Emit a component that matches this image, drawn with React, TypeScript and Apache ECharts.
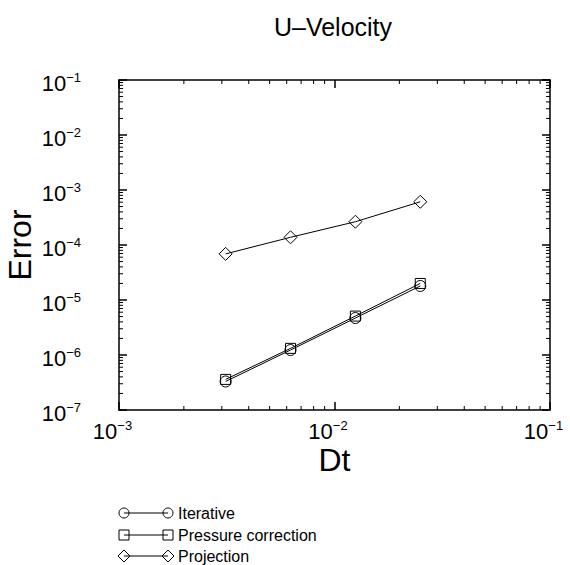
import React, { useEffect, useRef } from 'react';
import * as echarts from 'echarts';

const dt = [0.003125, 0.00625, 0.0125, 0.025];
const iterative = [3.3e-7, 1.23e-6, 4.7e-6, 1.8e-5];
const pressureCorrection = [3.6e-7, 1.32e-6, 5.1e-6, 2.0e-5];
const projection = [6.9e-5, 1.38e-4, 2.65e-4, 6.1e-4];

const xDecades = [1e-3, 1e-2];
const yDecades = [1e-7, 1e-6, 1e-5, 1e-4, 1e-3, 1e-2];
const minorMultipliers = [2, 3, 4, 5, 6, 7, 8, 9];

const X_MIN = 1e-3;
const X_MAX = 1e-1;
const Y_MIN = 1e-7;
const Y_MAX = 1e-1;

const legendItems = [
  { name: 'Iterative', symbol: 'circle' },
  { name: 'Pressure correction', symbol: 'square' },
  { name: 'Projection', symbol: 'diamond' },
];

const FONT = "'Liberation Sans', Arial, Helvetica, sans-serif";

function expLabel(v: number) {
  const e = Math.round(Math.log10(v));
  const s = e < 0 ? '\u2212' + Math.abs(e) : String(e);
  return `{b|10}{s|${s}}`;
}

const rich = {
  b: { fontSize: 22, fontFamily: FONT, color: '#000', lineHeight: 24 },
  s: { fontSize: 13, fontFamily: FONT, color: '#000', verticalAlign: 'top', lineHeight: 13 },
};

function markerShape(kind: string, cx: number, cy: number) {
  const style = { fill: 'rgba(0,0,0,0)', stroke: '#000', lineWidth: 1 };
  if (kind === 'circle') return { type: 'circle', shape: { cx, cy, r: 5 }, style };
  if (kind === 'square') return { type: 'rect', shape: { x: cx - 5, y: cy - 5, width: 10, height: 10 }, style };
  return {
    type: 'polygon',
    shape: { points: [[cx - 6, cy], [cx, cy - 6], [cx + 6, cy], [cx, cy + 6]] },
    style,
  };
}

export default function App() {
  const ref = useRef<HTMLDivElement>(null);
  useEffect(() => {
    if (!ref.current) return;
    const chart = echarts.init(ref.current, null, { renderer: 'svg' });

    const xMinor: number[][] = [];
    xDecades.forEach((d) => minorMultipliers.forEach((m) => xMinor.push([d * m, 1e-4])));
    const yMinor: number[][] = [];
    yDecades.forEach((d) => minorMultipliers.forEach((m) => yMinor.push([1e-2, d * m])));

    const legendGraphics: any[] = [];
    const rowY = [513, 535, 556];
    legendItems.forEach((it, i) => {
      const y = rowY[i];
      legendGraphics.push({
        type: 'line',
        shape: { x1: 124, y1: y, x2: 168, y2: y },
        style: { stroke: '#000', lineWidth: 1 },
      });
      legendGraphics.push(markerShape(it.symbol, 124, y));
      legendGraphics.push(markerShape(it.symbol, 168, y));
      legendGraphics.push({
        type: 'text',
        style: {
          text: it.name,
          x: 178,
          y,
          fontSize: 16,
          fontFamily: FONT,
          fill: '#000',
          verticalAlign: 'middle',
          align: 'left',
        },
      });
    });

    const axisCommon = {
      type: 'log',
      logBase: 10,
      axisLine: { show: true, onZero: false, lineStyle: { color: '#000', width: 1.5 } },
      axisTick: { show: true, inside: true, length: 8, lineStyle: { color: '#000', width: 1.5 } },
      splitLine: { show: false },
      minorTick: { show: false },
    };

    const tickStyle = { stroke: '#000', lineWidth: 1 };

    const option: any = {
      animation: false,
      backgroundColor: '#fff',
      textStyle: { fontFamily: FONT },
      grid: {
        left: 119,
        right: 20,
        top: 80,
        bottom: 155,
        containLabel: false,
        outerBoundsMode: 'none',
      },
      xAxis: [
        {
          ...axisCommon,
          position: 'bottom',
          min: X_MIN,
          max: X_MAX,
          axisLabel: { show: true, margin: 9, padding: [0, 13, 0, 0], formatter: expLabel, rich },
          name: 'Dt',
          nameLocation: 'middle',
          nameGap: 34,
          nameMoveOverlap: false,
          nameTextStyle: { fontSize: 32, lineHeight: 32, fontFamily: FONT, color: '#000' },
        },
        {
          ...axisCommon,
          position: 'top',
          min: X_MIN,
          max: X_MAX,
          axisLabel: { show: false },
        },
      ],
      yAxis: [
        {
          ...axisCommon,
          position: 'left',
          min: Y_MIN,
          max: Y_MAX,
          axisLabel: { show: true, margin: 38, padding: [6, 0, 0, 0], formatter: expLabel, rich },
          name: 'Error',
          nameLocation: 'middle',
          nameRotate: 90,
          nameGap: 83,
          nameMoveOverlap: false,
          nameTextStyle: { fontSize: 32, fontFamily: FONT, color: '#000' },
        },
        {
          ...axisCommon,
          position: 'right',
          min: Y_MIN,
          max: Y_MAX,
          axisLabel: { show: false },
        },
      ],
      graphic: [
        {
          type: 'text',
          style: {
            text: 'U\u2013Velocity',
            x: 333,
            y: 27,
            fontSize: 25,
            fontFamily: FONT,
            fill: '#000',
            align: 'center',
            verticalAlign: 'middle',
          },
        },
        ...legendGraphics,
      ],
      series: [
        {
          name: 'Iterative',
          type: 'line',
          data: dt.map((x, i) => [x, iterative[i]]),
          symbol: 'circle',
          symbolSize: 11,
          lineStyle: { color: '#000', width: 1 },
          itemStyle: { color: 'rgba(0,0,0,0)', borderColor: '#000', borderWidth: 1 },
          z: 3,
        },
        {
          name: 'Pressure correction',
          type: 'line',
          data: dt.map((x, i) => [x, pressureCorrection[i]]),
          symbol: 'rect',
          symbolSize: 10,
          lineStyle: { color: '#000', width: 1 },
          itemStyle: { color: 'rgba(0,0,0,0)', borderColor: '#000', borderWidth: 1 },
          z: 3,
        },
        {
          name: 'Projection',
          type: 'line',
          data: dt.map((x, i) => [x, projection[i]]),
          symbol: 'diamond',
          symbolSize: 13,
          lineStyle: { color: '#000', width: 1 },
          itemStyle: { color: 'rgba(0,0,0,0)', borderColor: '#000', borderWidth: 1 },
          z: 3,
        },
        {
          type: 'custom',
          silent: true,
          data: xMinor,
          renderItem: (_p: any, api: any) => {
            const v = api.value(0);
            const b = api.coord([v, Y_MIN]);
            const t = api.coord([v, Y_MAX]);
            return {
              type: 'group',
              children: [
                { type: 'line', shape: { x1: b[0], y1: b[1], x2: b[0], y2: b[1] - 4 }, style: tickStyle },
                { type: 'line', shape: { x1: t[0], y1: t[1], x2: t[0], y2: t[1] + 4 }, style: tickStyle },
              ],
            };
          },
          z: 4,
        },
        {
          type: 'custom',
          silent: true,
          data: yMinor,
          renderItem: (_p: any, api: any) => {
            const v = api.value(1);
            const l = api.coord([X_MIN, v]);
            const r = api.coord([X_MAX, v]);
            return {
              type: 'group',
              children: [
                { type: 'line', shape: { x1: l[0], y1: l[1], x2: l[0] + 4, y2: l[1] }, style: tickStyle },
                { type: 'line', shape: { x1: r[0], y1: r[1], x2: r[0] - 4, y2: r[1] }, style: tickStyle },
              ],
            };
          },
          z: 4,
        },
      ],
    };
    chart.setOption(option);
    return () => chart.dispose();
  }, []);
  return (
    <div
      ref={ref}
      style={{ position: 'absolute', left: 0, top: 0, width: 570, height: 565 }}
    />
  );
}
